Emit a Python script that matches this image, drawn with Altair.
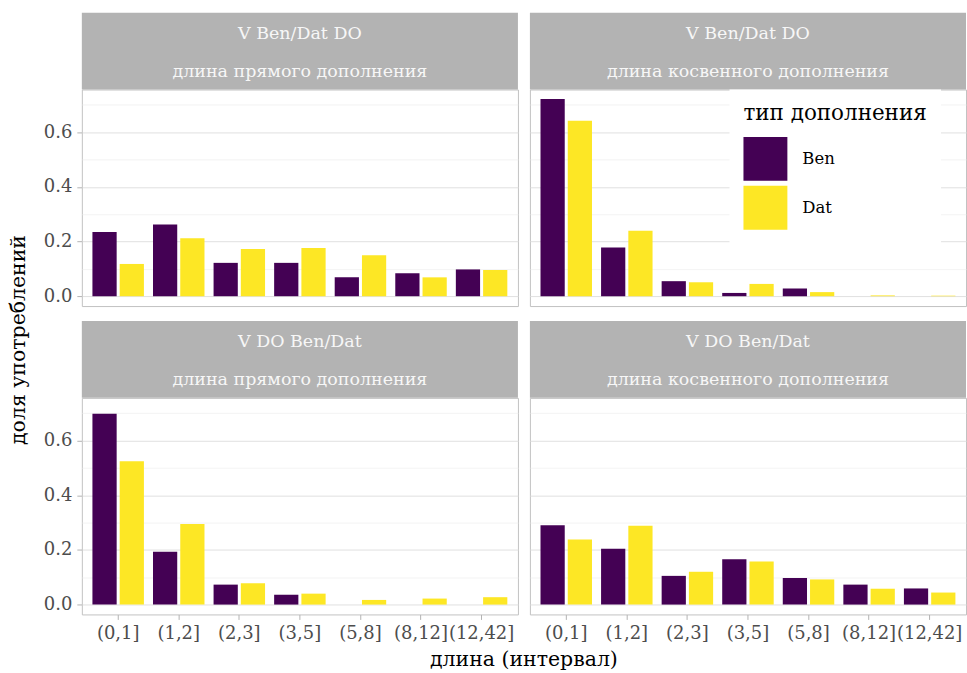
import altair as alt
import pandas as pd

# Length intervals (x categories) and complement types
intervals = ["(0,1]", "(1,2]", "(2,3]", "(3,5]", "(5,8]", "(8,12]", "(12,42]"]
types = ["Ben", "Dat"]

# Panel labels: construction order and which complement is measured
constructions = ["V Ben/Dat DO", "V Ben/Dat DO", "V DO Ben/Dat", "V DO Ben/Dat"]
measures = ["длина прямого дополнения", "длина косвенного дополнения",
            "длина прямого дополнения", "длина косвенного дополнения"]

# Share of uses per interval, one list per panel and type
ben_values = [
    [0.235, 0.262, 0.122, 0.122, 0.069, 0.084, 0.098],
    [0.721, 0.178, 0.055, 0.012, 0.028, 0.0, 0.0],
    [0.698, 0.193, 0.073, 0.036, 0.0, 0.0, 0.0],
    [0.290, 0.204, 0.105, 0.166, 0.097, 0.073, 0.059],
]
dat_values = [
    [0.118, 0.212, 0.173, 0.176, 0.150, 0.069, 0.096],
    [0.642, 0.239, 0.051, 0.045, 0.015, 0.003, 0.002],
    [0.524, 0.295, 0.078, 0.040, 0.017, 0.022, 0.027],
    [0.238, 0.288, 0.120, 0.158, 0.092, 0.058, 0.044],
]

y_grid = [0.0, 0.1, 0.2, 0.3, 0.4, 0.5, 0.6, 0.7]

FONT = "DejaVu Serif"
W, H = 437, 217
STRIP = 77
purple, yellow = "#440154", "#FDE725"

color_scale = alt.Scale(domain=types, range=[purple, yellow])
x_scale = alt.Scale(paddingInner=0, paddingOuter=0.1)
off_scale = alt.Scale(paddingInner=0.111, paddingOuter=0.1667)
y_scale = alt.Scale(domain=[-0.036, 0.756], nice=False, zero=False)

minor_test = "round(datum.value*10) % 2 == 1"


def y_axis(show):
    return alt.Axis(
        values=y_grid,
        title=None,
        labels=show,
        ticks=show,
        domain=False,
        labelExpr=f"{minor_test} ? '' : format(datum.value, '.1f')",
        labelFont=FONT, labelFontSize=18, labelColor="#4D4D4D", labelPadding=5,
        tickColor="#B3B3B3", tickSize=5,
        tickOpacity={"condition": {"test": minor_test, "value": 0}, "value": 1},
        gridColor={"condition": {"test": minor_test, "value": "#EEEEEE"}, "value": "#E0E0E0"},
        gridWidth={"condition": {"test": minor_test, "value": 0.7}, "value": 1},
    )


def x_axis(show):
    return alt.Axis(
        title=None,
        labels=show,
        ticks=show,
        domain=False,
        labelAngle=0,
        labelFont=FONT, labelFontSize=18, labelColor="#4D4D4D", labelPadding=5,
        tickColor="#B3B3B3", tickSize=5,
        gridColor="#E0E0E0", gridWidth=1,
    )


def panel(i):
    rows = []
    for j, iv in enumerate(intervals):
        rows.append({"interval": iv, "type": "Ben", "share": ben_values[i][j]})
        rows.append({"interval": iv, "type": "Dat", "share": dat_values[i][j]})
    df = pd.DataFrame(rows)
    left = i % 2 == 0
    bottom = i >= 2

    bars = alt.Chart(df).mark_bar().encode(
        x=alt.X("interval:N", sort=intervals, scale=x_scale, axis=x_axis(bottom)),
        xOffset=alt.XOffset("type:N", sort=types, scale=off_scale),
        y=alt.Y("share:Q", scale=y_scale, axis=y_axis(left)),
        color=alt.Color("type:N", scale=color_scale,
                        legend=alt.Legend(title="тип дополнения")),
    )

    lab = pd.DataFrame({"line1": [constructions[i]], "line2": [measures[i]]})
    strip = alt.Chart(lab).mark_rect(color="#B3B3B3").encode(
        x=alt.value(0), x2=alt.value(W), y=alt.value(-STRIP), y2=alt.value(0)
    )
    t1 = alt.Chart(lab).mark_text(font=FONT, fontSize=17.5, color="#F7F7F7",
                                  baseline="middle").encode(
        text="line1:N", x=alt.value(W / 2), y=alt.value(-STRIP + 21)
    )
    t2 = alt.Chart(lab).mark_text(font=FONT, fontSize=17.5, color="#F7F7F7",
                                  baseline="middle").encode(
        text="line2:N", x=alt.value(W / 2), y=alt.value(-STRIP + 59)
    )
    layers = [strip, t1, t2, bars]

    if i == 0:
        ytitle = alt.Chart(lab).mark_text(font=FONT, fontSize=20.5, color="black",
                                          angle=270, baseline="middle").encode(
            text=alt.value("доля употреблений"), x=alt.value(-63), y=alt.value(251)
        )
        layers.append(ytitle)
    if i == 2:
        xtitle = alt.Chart(lab).mark_text(font=FONT, fontSize=20.5, color="black",
                                          baseline="alphabetic").encode(
            text=alt.value("длина (интервал)"), x=alt.value(W + 6), y=alt.value(H + 52)
        )
        layers.append(xtitle)

    return alt.layer(*layers).properties(width=W, height=H)


grid = alt.concat(
    *[panel(i) for i in range(4)],
    columns=2,
    spacing={"row": 15 + STRIP, "column": 12},
    bounds="flush",
)

chart = grid.configure(
    padding={"left": 8, "top": 11, "right": 0, "bottom": 0},
).configure_view(
    stroke="#C2C2C2", strokeWidth=1
).configure_legend(
    orient="none", legendX=730 - 81, legendY=0,
    fillColor="white", padding=14, titleFont=FONT, titleFontSize=21.5,
    titleColor="black", titleFontWeight="normal", titlePadding=12, titleLimit=400,
    labelFont=FONT, labelFontSize=16.5, labelColor="black", labelOffset=15,
    symbolType="square", symbolSize=1936, symbolStrokeWidth=0, rowPadding=5,
).properties(background="white")

chart.save("out.html", embed_options={"renderer": "svg", "actions": False})
